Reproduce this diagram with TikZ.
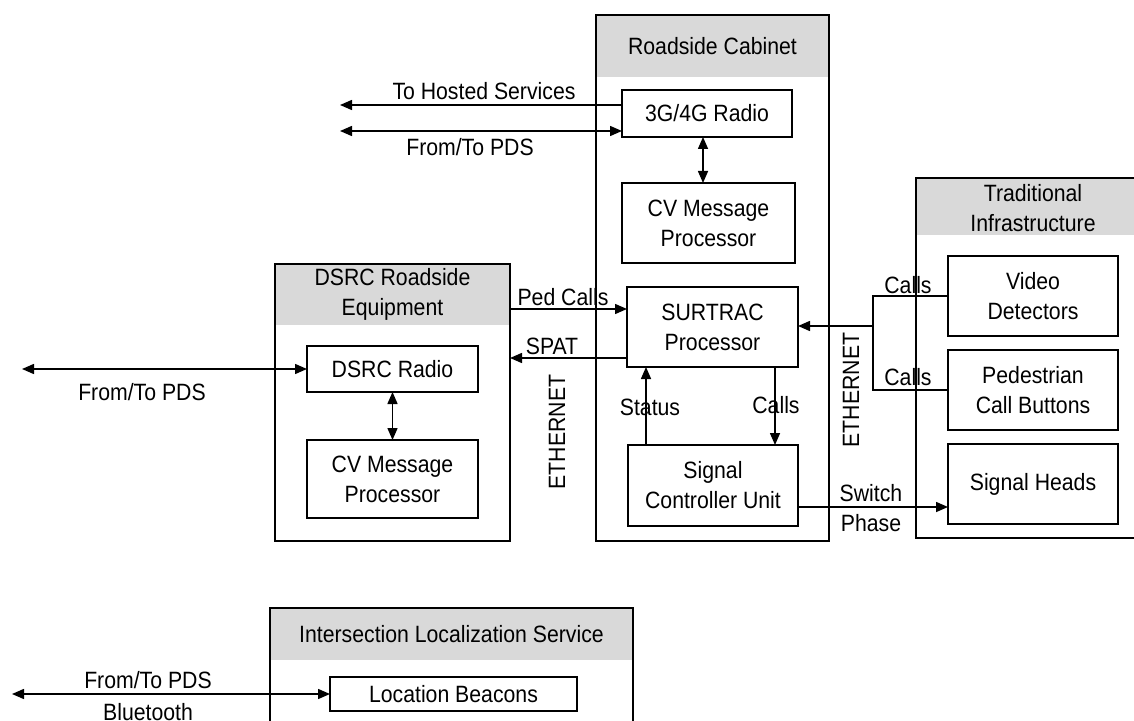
\documentclass[tikz,border=0pt]{standalone}
\usepackage{fontspec}
\setmainfont{Liberation Sans}[FakeStretch=0.9]
\usetikzlibrary{arrows.meta}
\begin{document}
\begin{tikzpicture}[x=0.5pt,y=-0.5pt,
  line width=0.75pt,
  >={Triangle[length=6pt,width=5pt]},
  box/.style={draw,rectangle,inner sep=0pt,outer sep=0pt,align=center,
    font=\fontsize{11.8}{15}\selectfont},
  hdr/.style={fill=black!15,rectangle,inner sep=0pt,outer sep=0pt,align=center,
    font=\fontsize{11.8}{15}\selectfont},
  frame/.style={draw,rectangle,inner sep=0pt,outer sep=0pt},
  lbl/.style={inner sep=0pt,align=center,font=\fontsize{11.8}{15}\selectfont}]
\useasboundingbox (0,0) rectangle (1134,721);

% ---------- Roadside Cabinet ----------
\node[hdr,minimum width=116.5pt,minimum height=31pt] (cabh) at (712.5,46) {Roadside Cabinet};
\node[frame,minimum width=116.5pt,minimum height=263pt] (cab) at (712.5,278) {};
\node[box,fill=white,minimum width=85pt,minimum height=23.5pt] (radio) at (707,113.5) {3G/4G Radio};
\node[box,minimum width=86.5pt,minimum height=40pt] (cvtop) at (708.5,223) {CV Message\\Processor};
\node[box,fill=white,minimum width=85.5pt,minimum height=40pt] (surtrac) at (712.5,327) {SURTRAC\\Processor};
\node[box,fill=white,minimum width=85pt,minimum height=40.5pt] (scu) at (713,485.5) {Signal\\Controller Unit};

% ---------- DSRC Roadside Equipment ----------
\node[hdr,minimum width=117.5pt,minimum height=30.5pt] (dsrch) at (392.5,294.5) {DSRC Roadside\\Equipment};
\node[frame,minimum width=117.5pt,minimum height=138.5pt] (dsrc) at (392.5,402.5) {};
\node[box,minimum width=85.5pt,minimum height=23pt] (dradio) at (392.5,369) {DSRC Radio};
\node[box,minimum width=85.5pt,minimum height=39pt] (cvleft) at (392.5,479) {CV Message\\Processor};

% ---------- Traditional Infrastructure ----------
\node[hdr,minimum width=122pt,minimum height=28.5pt] (trah) at (1038,206.5) {};
\node[lbl] (tratxt) at (1033,208) {Traditional\\Infrastructure};
\node[frame,minimum width=122pt,minimum height=180pt] (tra) at (1038,358) {};
\node[box,minimum width=85pt,minimum height=40pt] (video) at (1033,296) {Video\\Detectors};
\node[box,minimum width=85pt,minimum height=40pt] (ped) at (1033,390) {Pedestrian\\Call Buttons};
\node[box,minimum width=85pt,minimum height=40pt] (heads) at (1033,484) {Signal Heads};

% ---------- Intersection Localization Service ----------
\node[hdr,minimum width=181.5pt,minimum height=26pt] (ilsh) at (451.5,634) {Intersection Localization Service};
\node[frame,minimum width=181.5pt,minimum height=76pt] (ils) at (451.5,684) {};
\node[box,minimum width=123.5pt,minimum height=17pt] (beacons) at (453.5,694) {Location Beacons};

% ---------- coordinates ----------
\coordinate (hs) at (340,105);
\coordinate (pdsT) at (340,131);
\coordinate (pdsL) at (22,369);
\coordinate (pdsB) at (12,694);
\coordinate (pc) at (0,309);
\coordinate (sp) at (0,358);
\coordinate (st) at (646,0);
\coordinate (cl) at (775,0);
\coordinate (r3) at (703,0);
\coordinate (busT) at (873,296);
\coordinate (busB) at (873,390);
\coordinate (busM) at (873,326);
\coordinate (sw) at (0,507);

% ---------- connectors ----------
\draw[->] (radio.west |- hs) -- (hs);
\draw[<->] (pdsT) -- (radio.west |- pdsT);
\draw[<->] (radio.south -| r3) -- (cvtop.north -| r3);
\draw[->] (dsrc.east |- pc) -- (surtrac.west |- pc);
\draw[->] (surtrac.west |- sp) -- (dsrc.east |- sp);
\draw[->] (scu.north -| st) -- (surtrac.south -| st);
\draw[->] (surtrac.south -| cl) -- (scu.north -| cl);
\draw (video.west) -- (busT) -- (busB) -- (ped.west);
\draw[->] (busM) -- (surtrac.east |- busM);
\draw[->] (scu.east |- sw) -- (heads.west |- sw);
\draw[<->] (pdsL) -- (dradio.west);
\draw[<->] (dradio.south) -- (cvleft.north);
\draw[<->] (pdsB) -- (beacons.west);

% ---------- labels ----------
\node[lbl] (lhs) at (484,91) {To Hosted Services};
\node[lbl] (lpdsT) at (470,147) {From/To PDS};
\node[lbl] (lped) at (563,297) {Ped Calls};
\node[lbl] (lspat) at (552,346) {SPAT};
\node[lbl,rotate=90] (leth1) at (557,432) {ETHERNET};
\node[lbl,rotate=90] (leth2) at (851,390) {ETHERNET};
\node[lbl] (lstat) at (650,407) {Status};
\node[lbl] (lcalls) at (776,405) {Calls};
\node[lbl] (lc1) at (908,285) {Calls};
\node[lbl] (lc2) at (908,377) {Calls};
\node[lbl] (lsw) at (871,493) {Switch};
\node[lbl] (lph) at (871,523) {Phase};
\node[lbl] (lpdsL) at (142,392) {From/To PDS};
\node[lbl] (lpdsB) at (148,680) {From/To PDS};
\node[lbl] (lbt) at (148,712) {Bluetooth};
\end{tikzpicture}
\end{document}
